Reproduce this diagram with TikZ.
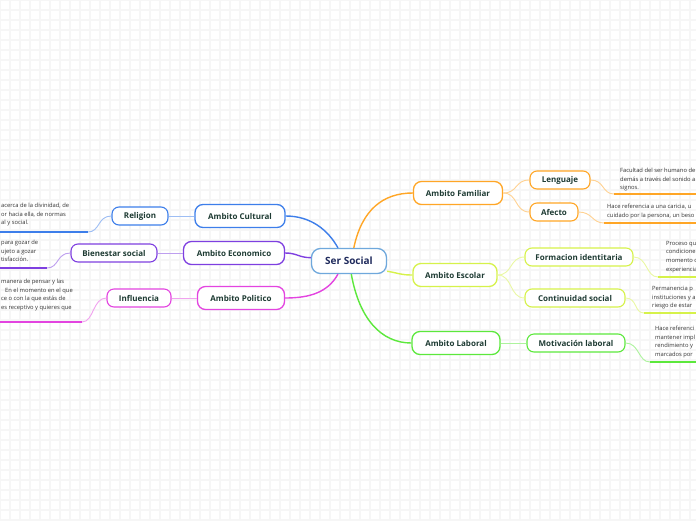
\documentclass[tikz,border=0pt]{standalone}
\usepackage{fontspec}
\setmainfont{Open Sans}
\usetikzlibrary{positioning}
\definecolor{cser}{HTML}{6FA8DC}
\definecolor{sertext}{HTML}{1F2A5C}
\definecolor{nodetext}{HTML}{1E3B33}
\definecolor{notetext}{HTML}{333333}
\definecolor{corange}{HTML}{FFA626}
\definecolor{clime}{HTML}{D6F24A}
\definecolor{cgreen}{HTML}{5CE83C}
\definecolor{cblue}{HTML}{3D7EEA}
\definecolor{cpurple}{HTML}{7E3FE0}
\definecolor{cmagenta}{HTML}{E344E0}
\definecolor{gridgray}{HTML}{F6F6F6}

\begin{document}
\begin{tikzpicture}[x=1pt, y=-1pt,
  mainbox/.style={draw=cser, line width=1.3pt, fill=white, rounded corners=9pt, minimum height=25pt, font=\fontsize{10}{12}\selectfont\bfseries, text=sertext},
  branch/.style={draw=#1, line width=1.3pt, fill=white, rounded corners=8pt, minimum height=23pt, font=\fontsize{8}{10}\selectfont\bfseries, text=nodetext},
  leaf/.style={draw=#1, line width=1.1pt, fill=white, rounded corners=7pt, minimum height=18pt, font=\fontsize{8}{10}\selectfont\bfseries, text=nodetext},
  note/.style={anchor=north west, inner sep=0pt, align=left, font=\fontsize{5.8}{8.6}\selectfont, text=notetext},
  link/.style={draw=#1, line width=1.4pt},
  sublink/.style={draw=#1!50, line width=0.9pt},
  underline/.style={draw=#1, line width=1.4pt}]
  \useasboundingbox (0,0) rectangle (696,520);
  \fill[white] (0,0) rectangle (696,520);
  \draw[gridgray, line width=2pt] (0,0) grid[step=10pt] (696,520);

  % Central node
  \node[mainbox, minimum width=75pt] (ser) at (349,261) {Ser Social};

  % Right branches
  \node[branch=corange, minimum width=89pt] (fam) at (458,193) {Ambito Familiar};
  \node[branch=clime, minimum width=84pt] (esc) at (455,275) {Ambito Escolar};
  \node[branch=cgreen, minimum width=88pt] (lab) at (456,343) {Ambito Laboral};

  % Left branches
  \node[branch=cblue, minimum width=90pt] (cul) at (240,216) {Ambito Cultural};
  \node[branch=cpurple, minimum width=101pt] (eco) at (234,253) {Ambito Economico};
  \node[branch=cmagenta, minimum width=87pt] (pol) at (241,298) {Ambito Politico};

  \draw[link=corange] (ser.70) .. controls +(8,-38) and +(-30,0) .. (fam.west);
  \draw[link=clime] (ser.-15) .. controls +(12,2) and +(-12,0) .. (esc.west);
  \draw[link=cgreen] (ser.-80) .. controls +(8,45) and +(-30,0) .. (lab.west);
  \draw[link=cblue] (ser.130) .. controls +(-10,-18) and +(25,0) .. (cul.east);
  \draw[link=cpurple] (ser.175) .. controls +(-12,0) and +(12,0) .. (eco.east);
  \draw[link=cmagenta] (ser.-130) .. controls +(-10,18) and +(25,0) .. (pol.east);

  % Sub-branches
  \node[leaf=corange, minimum width=60pt] (len) at (560,180) {Lenguaje};
  \node[leaf=corange, minimum width=48pt] (afe) at (554,212) {Afecto};
  \node[leaf=clime, minimum width=108pt] (for) at (579,257) {Formacion identitaria};
  \node[leaf=clime, minimum width=100pt] (con) at (575,298) {Continuidad social};
  \node[leaf=cgreen, minimum width=98pt] (mot) at (576,343) {Motivación laboral};
  \node[leaf=cblue, minimum width=56pt] (rel) at (140,216) {Religion};
  \node[leaf=cpurple, minimum width=86pt] (bie) at (114,253) {Bienestar social};
  \node[leaf=cmagenta, minimum width=64pt] (inf) at (139,298) {Influencia};

  \draw[sublink=corange] (fam.east) .. controls +(15,0) and +(-15,0) .. (len.west);
  \draw[sublink=corange] (fam.east) .. controls +(15,0) and +(-15,0) .. (afe.west);
  \draw[sublink=clime] (esc.east) .. controls +(15,0) and +(-15,0) .. (for.west);
  \draw[sublink=clime] (esc.east) .. controls +(15,0) and +(-15,0) .. (con.west);
  \draw[sublink=cgreen] (lab.east) -- (mot.west);
  \draw[sublink=cblue] (cul.west) -- (rel.east);
  \draw[sublink=cpurple] (eco.west) -- (bie.east);
  \draw[sublink=cmagenta] (pol.west) -- (inf.east);

  % Notes, right side
  \coordinate (lenA) at (614,194); \coordinate (lenB) at (700,194);
  \draw[sublink=corange] (len.east) .. controls +(14,0) and +(-12,0) .. (lenA);
  \draw[underline=corange] (lenA) -- (lenB);
  \node[note] (lenN) at (620,168) {Facultad del ser humano de\\demás a través del sonido a\\signos.};

  \coordinate (afeA) at (604,223); \coordinate (afeB) at (700,223);
  \draw[sublink=corange] (afe.east) .. controls +(14,0) and +(-12,0) .. (afeA);
  \draw[underline=corange] (afeA) -- (afeB);
  \node[note] (afeN) at (607,204) {Hace referencia a una caricia, u\\cuidado por la persona, un beso};

  \coordinate (forA) at (658,277); \coordinate (forB) at (700,277);
  \draw[sublink=clime] (for.east) .. controls +(14,0) and +(-12,0) .. (forA);
  \draw[underline=clime] (forA) -- (forB);
  \node[note] (forN) at (666,241) {Proceso qu\\condicione\\momento d\\experiencia};

  \coordinate (conA) at (644,313); \coordinate (conB) at (700,313);
  \draw[sublink=clime] (con.east) .. controls +(12,0) and +(-10,0) .. (conA);
  \draw[underline=clime] (conA) -- (conB);
  \node[note] (conN) at (652,286) {Permanencia p\\instituciones y a\\riesgo de estar};

  \coordinate (motA) at (650,362); \coordinate (motB) at (700,362);
  \draw[sublink=cgreen] (mot.east) .. controls +(14,0) and +(-12,0) .. (motA);
  \draw[underline=cgreen] (motA) -- (motB);
  \node[note] (motN) at (655,326) {Hace referenci\\mantener impl\\rendimiento y\\marcados por};

  % Notes, left side
  \coordinate (relA) at (88,232); \coordinate (relB) at (-4,232);
  \draw[sublink=cblue] (rel.west) .. controls +(-14,0) and +(12,0) .. (relA);
  \draw[underline=cblue] (relA) -- (relB);
  \node[note] (relN) at (1,203) {acerca de la divinidad, de\\or hacia ella, de normas\\al y social.};

  \coordinate (bieA) at (47,268); \coordinate (bieB) at (-4,268);
  \draw[sublink=cpurple] (bie.west) .. controls +(-14,0) and +(12,0) .. (bieA);
  \draw[underline=cpurple] (bieA) -- (bieB);
  \node[note] (bieN) at (1,240) {para gozar de\\ujeto a gozar\\tisfacción.};

  \coordinate (infA) at (82,322); \coordinate (infB) at (-4,322);
  \draw[sublink=cmagenta] (inf.west) .. controls +(-14,0) and +(12,0) .. (infA);
  \draw[underline=cmagenta] (infA) -- (infB);
  \node[note] (infN) at (1,279) {manera de pensar y las\\\hspace*{4pt}En el momento en el que\\ce o con la que estás de\\es receptivo y quieres que};
\end{tikzpicture}
\end{document}
